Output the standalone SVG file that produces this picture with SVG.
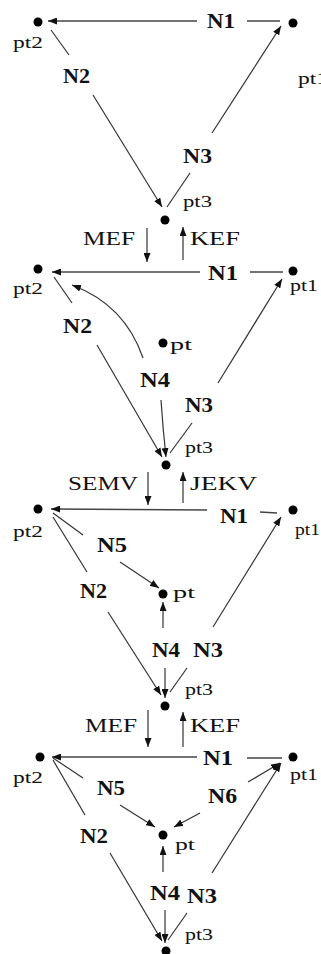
<svg xmlns="http://www.w3.org/2000/svg" width="321" height="954" viewBox="0 0 321 954">
<style>
.bg{fill:#fff}
.dot{fill:#000}
.c line,.c path{stroke:#333;stroke-width:1.2;fill:none}
.c .h{stroke:#444;stroke-width:1.7}
.n{font-family:"Liberation Serif","Times New Roman",serif;font-weight:bold;font-size:20px;fill:#111}
.p{font-family:"Liberation Serif","Times New Roman",serif;font-size:17px;fill:#111}
.f{font-family:"Liberation Serif","Times New Roman",serif;font-size:19px;fill:#111}
</style>
<defs>
<marker id="ah" markerWidth="9" markerHeight="7" refX="9" refY="3.5" orient="auto" markerUnits="userSpaceOnUse"><path d="M0,0 L9,3.5 L0,7 z" fill="#111"/></marker>
</defs>
<rect class="bg" x="0" y="0" width="321" height="954"/>

<g class="c" id="connectors">
<!-- triangle 1 -->
<line class="h" x1="197" y1="21" x2="48" y2="21" marker-end="url(#ah)"/>
<line class="h" x1="247" y1="21" x2="280" y2="21"/>
<line x1="69" y1="55" x2="51" y2="30"/>
<line x1="93" y1="95" x2="162" y2="207" marker-end="url(#ah)"/>
<line x1="212" y1="133" x2="281" y2="26" marker-end="url(#ah)"/>
<line x1="190" y1="173" x2="167" y2="207"/>
<!-- MEF / KEF 1 -->
<line x1="147" y1="228" x2="147" y2="262" marker-end="url(#ah)"/>
<line x1="183" y1="260" x2="183" y2="227" marker-end="url(#ah)"/>
<!-- triangle 2 -->
<line class="h" x1="200" y1="272" x2="52" y2="272" marker-end="url(#ah)"/>
<line class="h" x1="250" y1="272" x2="283" y2="272"/>
<line x1="218" y1="383" x2="282" y2="279" marker-end="url(#ah)"/>
<line x1="72" y1="303" x2="54" y2="277"/>
<line x1="97" y1="345" x2="162" y2="457" marker-end="url(#ah)"/>
<path d="M143,358 Q125,305 72,285" marker-end="url(#ah)"/>
<path d="M161,400 Q163,430 166,457" marker-end="url(#ah)"/>
<line x1="192" y1="423" x2="170" y2="453"/>
<!-- SEMV / JEKV -->
<line x1="148" y1="472" x2="148" y2="505" marker-end="url(#ah)"/>
<line x1="183" y1="503" x2="183" y2="472" marker-end="url(#ah)"/>
<!-- triangle 3 -->
<line class="h" x1="207" y1="510" x2="51" y2="509" marker-end="url(#ah)"/>
<line class="h" x1="260" y1="512" x2="277" y2="513"/>
<line x1="213" y1="627" x2="281" y2="517" marker-end="url(#ah)"/>
<line x1="83" y1="535" x2="53" y2="513"/>
<line x1="120" y1="562" x2="159" y2="588" marker-end="url(#ah)"/>
<line x1="87" y1="572" x2="53" y2="517"/>
<line x1="108" y1="612" x2="161" y2="695" marker-end="url(#ah)"/>
<line x1="163" y1="628" x2="163" y2="602" marker-end="url(#ah)"/>
<line x1="165" y1="668" x2="165" y2="698" marker-end="url(#ah)"/>
<line x1="187" y1="668" x2="170" y2="692"/>
<!-- MEF / KEF 2 -->
<line x1="148" y1="710" x2="148" y2="747" marker-end="url(#ah)"/>
<line x1="183" y1="747" x2="183" y2="712" marker-end="url(#ah)"/>
<!-- triangle 4 -->
<line class="h" x1="197" y1="757" x2="52" y2="757" marker-end="url(#ah)"/>
<line class="h" x1="247" y1="758" x2="282" y2="758"/>
<line x1="83" y1="778" x2="53" y2="758"/>
<line x1="120" y1="805" x2="155" y2="827" marker-end="url(#ah)"/>
<line x1="248" y1="782" x2="280" y2="763" marker-end="url(#ah)"/>
<line x1="200" y1="813" x2="174" y2="827" marker-end="url(#ah)"/>
<line x1="163" y1="872" x2="163" y2="846" marker-end="url(#ah)"/>
<line x1="85" y1="815" x2="53" y2="760"/>
<line x1="110" y1="853" x2="162" y2="941" marker-end="url(#ah)"/>
<line x1="165" y1="910" x2="165" y2="943" marker-end="url(#ah)"/>
<line x1="212" y1="873" x2="281" y2="763" marker-end="url(#ah)"/>
<line x1="187" y1="913" x2="168" y2="940"/>
</g>

<g id="labels">
<text class="n" x="207" y="28" textLength="28" lengthAdjust="spacingAndGlyphs">N1</text>
<text class="n" x="63" y="83" textLength="27" lengthAdjust="spacingAndGlyphs">N2</text>
<text class="n" x="183" y="163" textLength="29" lengthAdjust="spacingAndGlyphs">N3</text>
<text class="f" x="83" y="245" textLength="52" lengthAdjust="spacingAndGlyphs">MEF</text>
<text class="f" x="190" y="245" textLength="50" lengthAdjust="spacingAndGlyphs">KEF</text>
<text class="n" x="208" y="280" textLength="30" lengthAdjust="spacingAndGlyphs">N1</text>
<text class="n" x="63" y="333" textLength="29" lengthAdjust="spacingAndGlyphs">N2</text>
<text class="n" x="140" y="387" textLength="30" lengthAdjust="spacingAndGlyphs">N4</text>
<text class="n" x="185" y="412" textLength="28" lengthAdjust="spacingAndGlyphs">N3</text>
<text class="f" x="68" y="490" textLength="70" lengthAdjust="spacingAndGlyphs">SEMV</text>
<text class="f" x="190" y="490" textLength="67" lengthAdjust="spacingAndGlyphs">JEKV</text>
<text class="n" x="220" y="523" textLength="28" lengthAdjust="spacingAndGlyphs">N1</text>
<text class="n" x="97" y="552" textLength="30" lengthAdjust="spacingAndGlyphs">N5</text>
<text class="n" x="80" y="598" textLength="27" lengthAdjust="spacingAndGlyphs">N2</text>
<text class="n" x="152" y="657" textLength="28" lengthAdjust="spacingAndGlyphs">N4</text>
<text class="n" x="193" y="657" textLength="30" lengthAdjust="spacingAndGlyphs">N3</text>
<text class="f" x="85" y="732" textLength="52" lengthAdjust="spacingAndGlyphs">MEF</text>
<text class="f" x="190" y="732" textLength="50" lengthAdjust="spacingAndGlyphs">KEF</text>
<text class="n" x="203" y="765" textLength="30" lengthAdjust="spacingAndGlyphs">N1</text>
<text class="n" x="97" y="795" textLength="28" lengthAdjust="spacingAndGlyphs">N5</text>
<text class="n" x="208" y="803" textLength="29" lengthAdjust="spacingAndGlyphs">N6</text>
<text class="n" x="80" y="843" textLength="28" lengthAdjust="spacingAndGlyphs">N2</text>
<text class="n" x="150" y="900" textLength="30" lengthAdjust="spacingAndGlyphs">N4</text>
<text class="n" x="187" y="903" textLength="30" lengthAdjust="spacingAndGlyphs">N3</text>
</g>

<g id="t1-pt2"><circle class="dot" cx="38" cy="22" r="4.5"/><text class="p" x="13" y="48" textLength="30" lengthAdjust="spacingAndGlyphs">pt2</text></g>
<g id="t1-pt1"><circle class="dot" cx="293" cy="23" r="4.5"/><text class="p" x="298" y="84" textLength="30" lengthAdjust="spacingAndGlyphs">pt1</text></g>
<g id="t1-pt3"><circle class="dot" cx="165" cy="220" r="4.5"/><text class="p" x="183" y="207" textLength="29" lengthAdjust="spacingAndGlyphs">pt3</text></g>

<g id="t2-pt2"><circle class="dot" cx="38" cy="269" r="4.5"/><text class="p" x="13" y="294" textLength="30" lengthAdjust="spacingAndGlyphs">pt2</text></g>
<g id="t2-pt1"><circle class="dot" cx="293" cy="271" r="4.5"/><text class="p" x="290" y="291" textLength="28" lengthAdjust="spacingAndGlyphs">pt1</text></g>
<g id="t2-pt"><circle class="dot" cx="163" cy="343" r="4.5"/><text class="p" x="170" y="350" textLength="22" lengthAdjust="spacingAndGlyphs">pt</text></g>
<g id="t2-pt3"><circle class="dot" cx="166" cy="465" r="4.5"/><text class="p" x="185" y="453" textLength="28" lengthAdjust="spacingAndGlyphs">pt3</text></g>

<g id="t3-pt2"><circle class="dot" cx="38" cy="509" r="4.5"/><text class="p" x="13" y="537" textLength="30" lengthAdjust="spacingAndGlyphs">pt2</text></g>
<g id="t3-pt1"><circle class="dot" cx="293" cy="510" r="4.5"/><text class="p" x="295" y="535" textLength="25" lengthAdjust="spacingAndGlyphs">pt1</text></g>
<g id="t3-pt"><circle class="dot" cx="163" cy="594" r="4.5"/><text class="p" x="173" y="598" textLength="22" lengthAdjust="spacingAndGlyphs">pt</text></g>
<g id="t3-pt3"><circle class="dot" cx="165" cy="706" r="4.5"/><text class="p" x="185" y="695" textLength="28" lengthAdjust="spacingAndGlyphs">pt3</text></g>

<g id="t4-pt2"><circle class="dot" cx="40" cy="757" r="4.5"/><text class="p" x="13" y="783" textLength="30" lengthAdjust="spacingAndGlyphs">pt2</text></g>
<g id="t4-pt1"><circle class="dot" cx="293" cy="757" r="4.5"/><text class="p" x="290" y="780" textLength="28" lengthAdjust="spacingAndGlyphs">pt1</text></g>
<g id="t4-pt"><circle class="dot" cx="163" cy="835" r="4.5"/><text class="p" x="175" y="850" textLength="20" lengthAdjust="spacingAndGlyphs">pt</text></g>
<g id="t4-pt3"><circle class="dot" cx="166" cy="951" r="4.5"/><text class="p" x="185" y="940" textLength="28" lengthAdjust="spacingAndGlyphs">pt3</text></g>
</svg>
